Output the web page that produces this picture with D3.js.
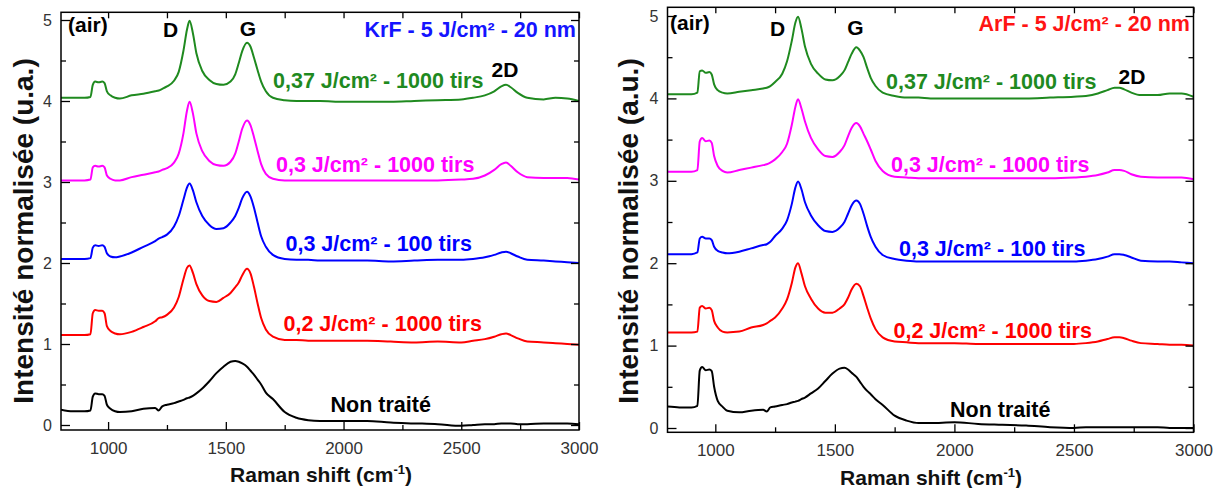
<!DOCTYPE html>
<html><head><meta charset="utf-8">
<script src="https://cdn.jsdelivr.net/npm/d3@7"></script>
<style>
body{margin:0;background:#fff}
svg{display:block}
text{font-family:"Liberation Sans",Arial,Helvetica,sans-serif}
</style>
</head><body>
<svg id="chart" width="1220" height="488"></svg>
<script>
// ---------- DATA ----------
const ramanShift = [
  800,850,900,925,935,945,960,975,985,995,
  1010,1030,1050,1100,1150,1200,1215,1230,1250,1280,
  1300,1320,1335,1346,1360,1375,1400,1430,1460,1490,
  1520,1540,1555,1570,1590,1605,1620,1635,1650,1670,
  1700,1750,1800,1850,1900,2000,2100,2200,2300,2400,
  2500,2550,2600,2640,2670,2690,2710,2740,2780,2850,
  2900,2950,3000];

// KrF panel
const krf037 = [
  4.04,4.04,4.04,4.05,4.20,4.24,4.23,4.24,4.22,4.12,
  4.07,4.04,4.03,4.07,4.09,4.12,4.13,4.15,4.18,4.25,
  4.36,4.62,4.88,4.99,4.84,4.59,4.37,4.26,4.21,4.20,
  4.24,4.33,4.47,4.62,4.72,4.67,4.53,4.38,4.24,4.12,
  4.04,4.01,4.00,4.00,4.00,3.99,3.99,3.99,4.00,4.01,
  4.02,4.04,4.07,4.12,4.18,4.20,4.17,4.10,4.04,4.02,
  4.04,4.03,4.00];
const krf03_1000 = [
  3.02,3.02,3.02,3.03,3.18,3.20,3.19,3.20,3.18,3.08,
  3.04,3.02,3.02,3.06,3.09,3.12,3.13,3.15,3.17,3.24,
  3.35,3.60,3.88,3.99,3.85,3.60,3.38,3.26,3.21,3.20,
  3.25,3.35,3.50,3.66,3.76,3.70,3.55,3.38,3.22,3.10,
  3.04,3.02,3.02,3.02,3.02,3.02,3.02,3.02,3.02,3.02,
  3.03,3.04,3.08,3.15,3.22,3.24,3.20,3.12,3.06,3.05,
  3.05,3.05,3.03];
const krf03_100 = [
  2.05,2.05,2.05,2.06,2.19,2.22,2.21,2.22,2.20,2.12,
  2.08,2.07,2.08,2.13,2.20,2.27,2.30,2.32,2.35,2.45,
  2.58,2.78,2.93,2.98,2.90,2.75,2.58,2.47,2.42,2.43,
  2.50,2.58,2.68,2.80,2.88,2.82,2.68,2.50,2.33,2.20,
  2.10,2.05,2.04,2.04,2.03,2.03,2.03,2.02,2.03,2.04,
  2.04,2.05,2.07,2.10,2.13,2.14,2.12,2.08,2.04,2.03,
  2.02,2.01,2.00];
const krf02 = [
  1.11,1.11,1.11,1.12,1.38,1.42,1.41,1.41,1.38,1.22,
  1.16,1.13,1.12,1.15,1.21,1.28,1.32,1.33,1.36,1.45,
  1.58,1.80,1.94,1.97,1.88,1.74,1.60,1.53,1.52,1.57,
  1.63,1.70,1.76,1.85,1.93,1.87,1.70,1.50,1.32,1.18,
  1.09,1.05,1.05,1.04,1.04,1.04,1.04,1.03,1.02,1.03,
  1.02,1.04,1.06,1.09,1.12,1.13,1.11,1.07,1.03,1.02,
  1.01,1.00,0.99];
const krfRaw = [
  0.19,0.17,0.17,0.18,0.35,0.39,0.38,0.38,0.36,0.25,
  0.20,0.17,0.16,0.17,0.20,0.21,0.18,0.23,0.25,0.27,
  0.29,0.31,0.33,0.34,0.36,0.39,0.45,0.54,0.64,0.72,
  0.78,0.79,0.78,0.76,0.72,0.67,0.62,0.56,0.50,0.40,
  0.32,0.16,0.09,0.06,0.05,0.05,0.05,0.03,0.02,0.01,
  -0.01,0.00,0.01,0.01,0.02,0.02,0.02,0.01,0.01,0.02,
  0.02,0.02,0.01];

// ArF panel
const arf037 = [
  4.05,4.05,4.05,4.07,4.33,4.34,4.31,4.32,4.29,4.17,
  4.10,4.07,4.06,4.08,4.10,4.12,4.13,4.15,4.20,4.30,
  4.45,4.70,4.92,4.99,4.85,4.63,4.42,4.30,4.23,4.22,
  4.27,4.34,4.44,4.54,4.62,4.58,4.50,4.37,4.25,4.15,
  4.07,4.03,4.01,4.01,4.00,4.00,4.00,4.00,4.00,4.01,
  4.02,4.03,4.06,4.10,4.13,4.13,4.11,4.07,4.04,4.04,
  4.06,4.06,4.02];
const arf03_1000 = [
  3.11,3.11,3.11,3.13,3.48,3.52,3.48,3.49,3.46,3.30,
  3.18,3.12,3.10,3.13,3.16,3.19,3.20,3.22,3.26,3.35,
  3.45,3.68,3.90,3.99,3.88,3.72,3.52,3.38,3.30,3.29,
  3.35,3.43,3.54,3.64,3.70,3.66,3.57,3.48,3.38,3.24,
  3.12,3.05,3.04,3.03,3.03,3.03,3.03,3.03,3.03,3.03,
  3.04,3.05,3.07,3.10,3.13,3.13,3.12,3.08,3.05,3.04,
  3.04,3.04,3.02];
const arf03_100 = [
  2.11,2.11,2.11,2.13,2.30,2.32,2.30,2.30,2.28,2.20,
  2.15,2.13,2.12,2.14,2.18,2.22,2.23,2.26,2.33,2.42,
  2.52,2.72,2.92,2.99,2.90,2.74,2.58,2.46,2.39,2.38,
  2.43,2.50,2.60,2.70,2.76,2.72,2.60,2.45,2.32,2.20,
  2.10,2.05,2.03,2.02,2.02,2.02,2.02,2.02,2.02,2.02,
  2.02,2.03,2.05,2.08,2.11,2.11,2.10,2.07,2.03,2.02,
  2.02,2.01,2.00];
const arf02 = [
  1.16,1.16,1.16,1.17,1.46,1.48,1.45,1.46,1.43,1.30,
  1.22,1.17,1.16,1.17,1.22,1.25,1.27,1.30,1.34,1.45,
  1.56,1.76,1.95,2.00,1.88,1.72,1.57,1.45,1.40,1.40,
  1.45,1.50,1.58,1.68,1.75,1.72,1.60,1.46,1.33,1.20,
  1.10,1.05,1.04,1.03,1.03,1.03,1.02,1.02,1.02,1.02,
  1.02,1.03,1.05,1.08,1.10,1.10,1.09,1.06,1.03,1.02,
  1.01,1.01,1.00];
const arfRaw = [
  0.26,0.25,0.25,0.27,0.70,0.74,0.70,0.71,0.69,0.50,
  0.33,0.26,0.21,0.19,0.21,0.22,0.20,0.25,0.26,0.28,
  0.29,0.31,0.32,0.33,0.35,0.37,0.42,0.48,0.57,0.66,
  0.72,0.73,0.71,0.67,0.62,0.56,0.50,0.45,0.41,0.35,
  0.28,0.15,0.09,0.06,0.06,0.07,0.05,0.04,0.03,0.01,
  0.00,0.01,0.01,0.01,0.01,0.01,0.01,0.01,0.01,0.01,
  0.00,0.00,0.00];

const xTickValues = [1000,1500,2000,2500,3000];
const xMinorTickValues = [1250,1750,2250,2750];
const yTickValues = [0,1,2,3,4,5];
const yMinorTickValues = [0.5,1.5,2.5,3.5,4.5];
const seriesLabels = ["0,37 J/cm² - 1000 tirs","0,3 J/cm² - 1000 tirs","0,3 J/cm² - 100 tirs","0,2 J/cm² - 1000 tirs","Non traité"];
const seriesColors = ["#1f8a1f","#ff00ff","#0000ff","#ff0000","#000000"];
const peakLabels = ["(air)","D","G","2D"];
const panelTitles = ["KrF - 5 J/cm² - 20 nm","ArF - 5 J/cm² - 20 nm"];
const panelTitleColors = ["#1414ff","#ff1414"];
const yAxisTitles = ["Intensité normalisée (u.a.)","Intensité normalisée (a.u.)"];

// ---------- DRAW ----------
const svg = d3.select("#chart");

function drawPanel(p, idx) {
  const g = svg.append("g");
  const x = d3.scaleLinear().domain([800,3000]).range([p.left, p.right]);
  const y = d3.scaleLinear().domain([0,5]).range([p.y0, p.y5]);

  const clipId = "clip" + idx;
  svg.append("clipPath").attr("id", clipId).append("rect")
    .attr("x", p.left).attr("y", p.top).attr("width", p.right - p.left).attr("height", p.bottom - p.top);

  const line = d3.line().x(d => x(d[0])).y(d => y(d[1])).curve(d3.curveMonotoneX);
  p.series.forEach((vals, i) => {
    g.append("path")
      .datum(ramanShift.map((r, j) => [r, vals[j]]))
      .attr("clip-path", `url(#${clipId})`)
      .attr("d", line)
      .attr("fill", "none")
      .attr("stroke", seriesColors[i])
      .attr("stroke-width", 2)
      .attr("stroke-linejoin", "round");
  });

  // axes
  const styleAxis = sel => { sel.select(".domain").remove(); sel.selectAll("line").attr("stroke", "#000").attr("stroke-width", 1.3); };
  g.append("g").attr("transform", `translate(0,${p.bottom})`)
    .call(d3.axisBottom(x).tickValues(xTickValues).tickSizeInner(-8).tickSizeOuter(0).tickPadding(12).tickFormat(d3.format("d")))
    .call(styleAxis)
    .call(s => s.selectAll("text").attr("font-size", 17).attr("fill", "#333"));
  g.append("g").attr("transform", `translate(0,${p.bottom})`)
    .call(d3.axisBottom(x).tickValues(xMinorTickValues).tickSizeInner(-5).tickSizeOuter(0).tickFormat(""))
    .call(styleAxis);
  g.append("g").attr("transform", `translate(0,${p.top})`)
    .call(d3.axisTop(x).tickValues(xTickValues.concat(xMinorTickValues)).tickSizeInner(-6).tickSizeOuter(0).tickFormat(""))
    .call(styleAxis);
  g.append("g").attr("transform", `translate(${p.left},0)`)
    .call(d3.axisLeft(y).tickValues(yTickValues).tickSizeInner(-9).tickSizeOuter(0).tickPadding(9).tickFormat(d3.format("d")))
    .call(styleAxis)
    .call(s => s.selectAll("text").attr("font-size", 16).attr("fill", "#333"));
  g.append("g").attr("transform", `translate(${p.left},0)`)
    .call(d3.axisLeft(y).tickValues(yMinorTickValues).tickSizeInner(-5).tickSizeOuter(0).tickFormat(""))
    .call(styleAxis);
  g.append("g").attr("transform", `translate(${p.right},0)`)
    .call(d3.axisRight(y).tickValues(yTickValues).tickSizeInner(-8).tickSizeOuter(0).tickFormat(""))
    .call(styleAxis);
  g.append("g").attr("transform", `translate(${p.right},0)`)
    .call(d3.axisRight(y).tickValues(yMinorTickValues).tickSizeInner(-5).tickSizeOuter(0).tickFormat(""))
    .call(styleAxis);

  // frame
  g.append("rect").attr("x", p.left).attr("y", p.top)
    .attr("width", p.right - p.left).attr("height", p.bottom - p.top)
    .attr("fill", "none").attr("stroke", "#000").attr("stroke-width", 1.5);

  // axis titles
  const xt = g.append("text").attr("x", p.xTitle[0]).attr("y", p.xTitle[1])
    .attr("text-anchor", "middle").attr("font-size", 21).attr("font-weight", "bold").attr("fill", "#111");
  xt.append("tspan").text("Raman shift (cm");
  xt.append("tspan").attr("dy", -8).attr("font-size", 13).text("-1");
  xt.append("tspan").attr("dy", 8).text(")");

  g.append("text")
    .attr("transform", `translate(${p.yTitle[0]},${p.yTitle[1]}) rotate(-90)`)
    .attr("text-anchor", "middle").attr("dominant-baseline", "central")
    .attr("font-size", 28).attr("font-weight", "bold").attr("fill", "#111")
    .text(yAxisTitles[idx]);

  // annotations
  const bold = (t, xx, yy, col, anchor, size) => g.append("text").attr("x", xx).attr("y", yy)
    .attr("text-anchor", anchor).attr("font-size", size).attr("font-weight", "bold").attr("fill", col).text(t);
  peakLabels.forEach((t, i) => bold(t, p.peakPos[i][0], p.peakPos[i][1], "#000", i === 0 ? "start" : "middle", 21));
  bold(panelTitles[idx], p.titlePos[0], p.titlePos[1], panelTitleColors[idx], "end", 21.5);
  seriesLabels.forEach((t, i) => bold(t, p.labelPos[i][0], p.labelPos[i][1], seriesColors[i], "start", 21.5));
}

drawPanel({
  left: 61, right: 579, top: 12.3, bottom: 430, y0: 425, y5: 20,
  series: [krf037, krf03_1000, krf03_100, krf02, krfRaw],
  xTitle: [321, 482], yTitle: [23, 231],
  peakPos: [[68, 32], [170.5, 37], [248, 36], [505, 77]],
  titlePos: [576, 37],
  labelPos: [[273, 88], [276, 171.5], [285.5, 250.5], [283.5, 330.5], [330.5, 411.5]]
}, 0);

drawPanel({
  left: 667.5, right: 1193.5, top: 7.3, bottom: 432.3, y0: 428, y5: 16,
  series: [arf037, arf03_1000, arf03_100, arf02, arfRaw],
  xTitle: [931, 485], yTitle: [628, 231],
  peakPos: [[670, 30], [777.5, 36], [855.5, 35], [1132, 84]],
  titlePos: [1190, 31],
  labelPos: [[886, 89], [891, 171.5], [899, 255.5], [893.5, 338], [950, 416.5]]
}, 1);
</script>
</body></html>
